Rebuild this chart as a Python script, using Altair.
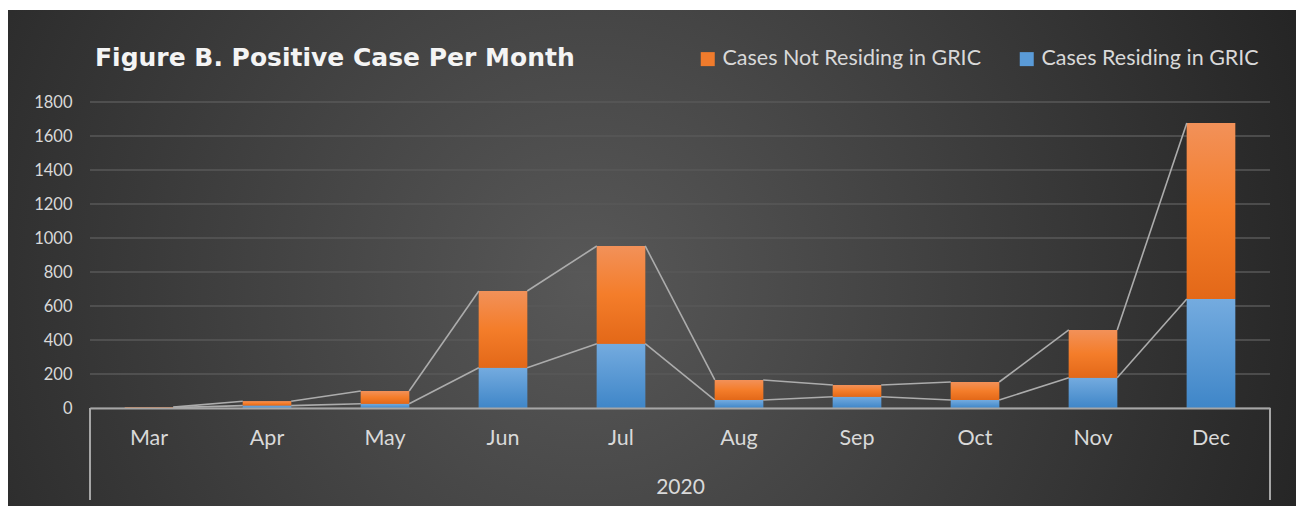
import altair as alt
import pandas as pd

months = ["Mar", "Apr", "May", "Jun", "Jul", "Aug", "Sep", "Oct", "Nov", "Dec"]
residing = [2, 14, 25, 237, 378, 47, 66, 47, 178, 641]
not_residing = [3, 26, 75, 451, 575, 118, 69, 106, 281, 1035]
series_names = ["Cases Not Residing in GRIC", "Cases Residing in GRIC"]
series_colors = ["#f07b2c", "#5a9bd8"]
y_ticks = [0, 200, 400, 600, 800, 1000, 1200, 1400, 1600, 1800]
year_label = "2020"
title_text = "Figure B. Positive Case Per Month"

rows = []
for m, r, n in zip(months, residing, not_residing):
    rows.append({"month": m, "series": series_names[1], "y0": 0, "y1": r})
    rows.append({"month": m, "series": series_names[0], "y0": r, "y1": r + n})
bars_df = pd.DataFrame(rows)

totals = [r + n for r, n in zip(residing, not_residing)]
line_rows = []
for i in range(len(months) - 1):
    line_rows.append({"m1": months[i], "m2": months[i + 1], "v1": residing[i], "v2": residing[i + 1]})
    line_rows.append({"m1": months[i], "m2": months[i + 1], "v1": totals[i], "v2": totals[i + 1]})
lines_df = pd.DataFrame(line_rows)
grid_df = pd.DataFrame({"v": y_ticks})
one_df = pd.DataFrame({"a": [0]})
title_df = pd.DataFrame({"t": [title_text]})

W, H = 1180, 306
PAD_IN, PAD_OUT = 0.59, 0.295
step = W / (len(months) - PAD_IN + 2 * PAD_OUT)
half_bw = step * (1 - PAD_IN) / 2

xscale = alt.Scale(domain=months, paddingInner=PAD_IN, paddingOuter=PAD_OUT)
yscale = alt.Scale(domain=[0, 1800], nice=False)
FONT = "Lato"
TXT = "#d9d9d9"

y_axis = alt.Axis(
    values=y_ticks, format="d", labelOverlap=False, grid=False, domain=False,
    ticks=False, tickSize=0,
    labelFont=FONT, labelFontSize=16.5, labelColor=TXT, labelPadding=18,
    title=None, zindex=1)

bg = alt.Chart(one_df).mark_rect(
    color={
        "gradient": "radial",
        "x1": 0.45, "y1": 0.52, "r1": 0,
        "x2": 0.45, "y2": 0.52, "r2": 0.62,
        "stops": [
            {"offset": 0, "color": "#585858"},
            {"offset": 1, "color": "#222222"},
        ],
    }
).encode(x=alt.value(-82), x2=alt.value(1206), y=alt.value(-92), y2=alt.value(404))

title_mark = alt.Chart(title_df).mark_text(
    font="DejaVu Sans", fontSize=25, fontWeight="bold", color="#f4f4f4",
    align="left", baseline="middle"
).encode(text="t:N", x=alt.value(5), y=alt.value(-44))

grid = alt.Chart(grid_df).mark_rule(color="#585858", strokeWidth=1.5).encode(
    y=alt.Y("v:Q", scale=yscale, axis=y_axis),
    x=alt.value(0), x2=alt.value(W),
)

base_bars = alt.Chart(bars_df).mark_bar().encode(
    x=alt.X("month:N", scale=xscale, sort=months, axis=alt.Axis(
        title=year_label, titleFont=FONT, titleFontSize=21, titleColor=TXT,
        titleFontWeight="normal", titlePadding=28,
        labelFont=FONT, labelFontSize=21.5, labelColor=TXT, labelPadding=19, labelAngle=0,
        domainColor="#a6a6a6", domainWidth=2, ticks=False, tickSize=0, zindex=1)),
    y=alt.Y("y0:Q", scale=yscale, axis=y_axis),
    y2="y1:Q",
    color=alt.Color("series:N", scale=alt.Scale(domain=series_names, range=series_colors),
                    legend=alt.Legend(orient="none", legendX=607, legendY=-54, direction="horizontal",
                                      title=None, symbolType="square", symbolSize=196,
                                      symbolStrokeWidth=0, labelFont=FONT, labelFontSize=21.5,
                                      labelColor=TXT, labelLimit=0, columnPadding=34,
                                      padding=0, labelOffset=4)),
)

blue_grad = {
    "gradient": "linear", "x1": 0, "y1": 0, "x2": 0, "y2": 1,
    "stops": [{"offset": 0, "color": "#74abdf"}, {"offset": 1, "color": "#3f86c8"}],
}
orange_grad = {
    "gradient": "linear", "x1": 0, "y1": 0, "x2": 0, "y2": 1,
    "stops": [{"offset": 0, "color": "#f29159"}, {"offset": 0.5, "color": "#f47d2a"},
              {"offset": 1, "color": "#e36818"}],
}
blue_bars = alt.Chart(bars_df).transform_filter(
    alt.datum.series == series_names[1]
).mark_bar(color=blue_grad).encode(
    x=alt.X("month:N", scale=xscale, sort=months),
    y=alt.Y("y0:Q", scale=yscale, axis=y_axis), y2="y1:Q")
orange_bars = alt.Chart(bars_df).transform_filter(
    alt.datum.series == series_names[0]
).mark_bar(color=orange_grad).encode(
    x=alt.X("month:N", scale=xscale, sort=months),
    y=alt.Y("y0:Q", scale=yscale, axis=y_axis), y2="y1:Q")

series_lines = alt.Chart(lines_df).mark_rule(
    color="#acacac", strokeWidth=1.6, xOffset=half_bw, x2Offset=-half_bw
).encode(
    x=alt.X("m1:N", scale=xscale, sort=months),
    x2="m2:N",
    y=alt.Y("v1:Q", scale=yscale, axis=y_axis),
    y2="v2:Q",
)

box_left = alt.Chart(one_df).mark_rule(color="#a6a6a6", strokeWidth=2).encode(
    x=alt.value(0), y=alt.value(H), y2=alt.value(398))
box_right = alt.Chart(one_df).mark_rule(color="#a6a6a6", strokeWidth=2).encode(
    x=alt.value(W), y=alt.value(H), y2=alt.value(398))

chart = alt.layer(
    bg, grid, base_bars, blue_bars, orange_bars, series_lines, box_left, box_right, title_mark
).properties(
    width=W, height=H,
    autosize=alt.AutoSizeParams(type="none"),
    padding={"left": 82, "top": 94, "right": 26, "bottom": 100},
).configure_view(stroke=None).configure_axis(labelOverlap=False).configure(background="white")

chart.save("out.html", embed_options={"renderer": "svg", "actions": False})
